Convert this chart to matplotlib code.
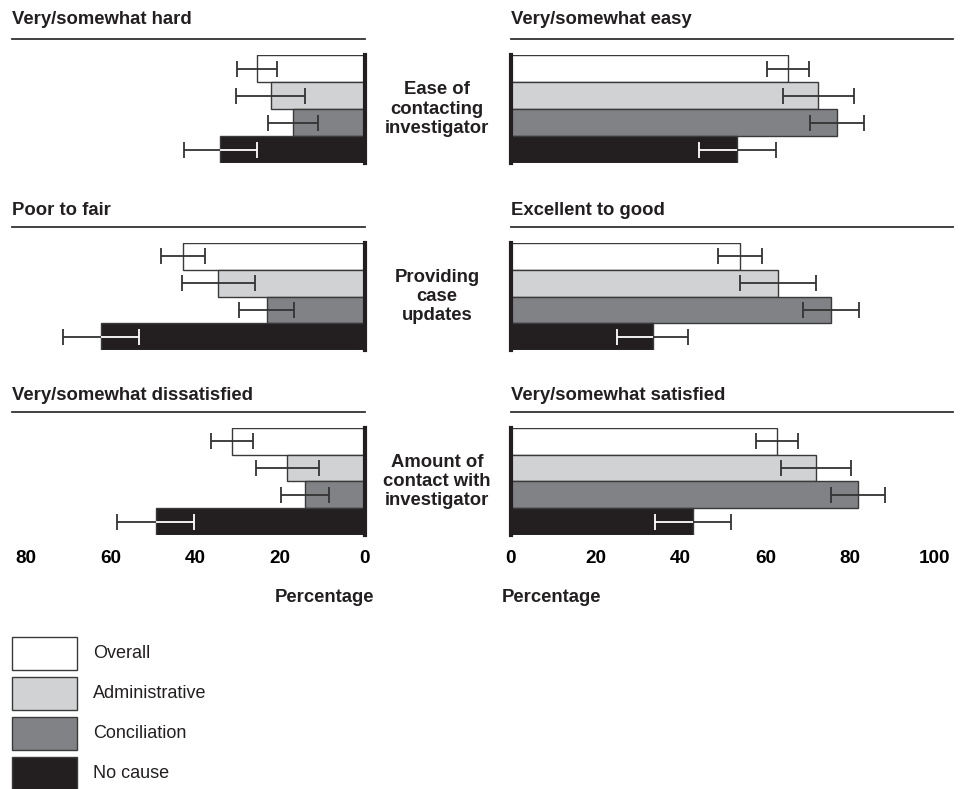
import numpy as np
import matplotlib
matplotlib.use('Agg')
import matplotlib.pyplot as plt
from matplotlib.patches import Rectangle
from matplotlib.lines import Line2D

plt.rcParams['font.family'] = ['Liberation Sans', 'DejaVu Sans']

# data
groups = ['Overall', 'Administrative', 'Conciliation', 'No cause']
colors = ['#ffffff', '#d1d2d4', '#808285', '#231f20']

items = ['Ease of\ncontacting\ninvestigator', 'Providing\ncase\nupdates',
         'Amount of\ncontact with\ninvestigator']
neg_titles = ['Very/somewhat hard', 'Poor to fair', 'Very/somewhat dissatisfied']
pos_titles = ['Very/somewhat easy', 'Excellent to good', 'Very/somewhat satisfied']

# negative side (left), one list per item: Overall, Admin, Conciliation, No cause
neg_vals = [[25.5, 22.3, 17.0, 34.2],
            [42.9, 34.6, 23.2, 62.3],
            [31.4, 18.3, 14.2, 49.4]]
neg_err = [[4.8, 8.1, 5.9, 8.6],
           [5.2, 8.7, 6.5, 9.0],
           [5.0, 7.5, 5.7, 9.1]]

# positive side (right)
pos_vals = [[65.3, 72.5, 76.9, 53.4],
            [54.0, 63.0, 75.5, 33.4],
            [62.8, 71.9, 81.8, 43.0]]
pos_err = [[5.0, 8.4, 6.4, 9.1],
           [5.2, 9.0, 6.6, 8.4],
           [5.0, 8.2, 6.4, 9.0]]

left_ticks = [80, 60, 40, 20, 0]
right_ticks = [0, 20, 40, 60, 80, 100]

W, H = 969, 789
fig = plt.figure(figsize=(W / 100, H / 100), dpi=100)


def rect(x0, y0, x1, y1):
    return [x0 / W, 1 - y1 / H, (x1 - x0) / W, (y1 - y0) / H]


def fline(x0, x1, y):
    fig.add_artist(Line2D([x0 / W, x1 / W], [1 - y / H, 1 - y / H],
                          color='#333333', lw=1.3, transform=fig.transFigure))


bar_tops = [55, 243, 428]
bar_bots = [163, 350, 535]
title_base = [24, 215, 400]
line_y = [39, 227, 412]

ypos = np.arange(len(groups))


def draw_bars(ax, vals, errs):
    bars = ax.barh(ypos, vals, height=1.0, color=colors, edgecolor='#3a3a3a',
                   linewidth=1.0, zorder=2)
    ax.errorbar(vals, ypos, xerr=errs, fmt='none', ecolor='#333333',
                elinewidth=1.3, capsize=6, capthick=1.3, zorder=3)
    # white part of the error bar that sits on the black bar
    eb = ax.errorbar(vals[-1], ypos[-1], xerr=errs[-1], fmt='none',
                     ecolor='white', elinewidth=1.3, capsize=6, capthick=1.3,
                     zorder=4)
    for art in eb.lines[1] + eb.lines[2]:
        art.set_clip_path(bars[-1])
    ax.set_ylim(len(groups) - 0.5, -0.5)
    ax.set_yticks([])
    for s in ['top', 'bottom', 'left', 'right']:
        ax.spines[s].set_visible(False)


for r in range(3):
    # left panel
    axl = fig.add_axes(rect(26, bar_tops[r], 365, bar_bots[r]))
    draw_bars(axl, neg_vals[r], neg_err[r])
    axl.set_xlim(80, 0)
    axl.spines['right'].set_visible(True)
    axl.spines['right'].set_linewidth(3)
    axl.spines['right'].set_color('#231f20')
    # right panel
    axr = fig.add_axes(rect(511, bar_tops[r], 935, bar_bots[r]))
    draw_bars(axr, pos_vals[r], pos_err[r])
    axr.set_xlim(0, 100)
    axr.spines['left'].set_visible(True)
    axr.spines['left'].set_linewidth(3)
    axr.spines['left'].set_color('#231f20')

    if r == 2:
        axl.set_xticks(left_ticks)
        axr.set_xticks(right_ticks)
        for ax in (axl, axr):
            ax.tick_params(axis='x', length=0, pad=11, labelsize=13.6)
            for lab in ax.get_xticklabels():
                lab.set_fontweight('bold')
    else:
        axl.set_xticks([])
        axr.set_xticks([])

    # section titles and rules
    fig.text(12 / W, 1 - title_base[r] / H, neg_titles[r], fontsize=13.3,
             fontweight='bold', va='baseline', ha='left', color='#231f20')
    fig.text(511 / W, 1 - title_base[r] / H, pos_titles[r], fontsize=13.3,
             fontweight='bold', va='baseline', ha='left', color='#231f20')
    fline(12, 365, line_y[r])
    fline(511, 953, line_y[r])

    # item label in the middle
    fig.text(437 / W, 1 - (bar_tops[r] + bar_bots[r]) / 2 / H, items[r],
             fontsize=13.3, fontweight='bold', ha='center', va='center',
             linespacing=1.18, color='#231f20')

fig.text(324 / W, 1 - 597 / H, 'Percentage', fontsize=13.3, fontweight='bold',
         ha='center', va='center', color='#231f20')
fig.text(502 / W, 1 - 597 / H, 'Percentage', fontsize=13.3, fontweight='bold',
         ha='left', va='center', color='#231f20')

# legend
for i, (g, c) in enumerate(zip(groups, colors)):
    y0 = 637 + 40 * i
    fig.add_artist(Rectangle((12 / W, 1 - (y0 + 33) / H), 65 / W, 33 / H,
                             facecolor=c, edgecolor='#3a3a3a', lw=1.0,
                             transform=fig.transFigure))
    fig.text(93 / W, 1 - (y0 + 16.5) / H, g, fontsize=13, ha='left',
             va='center', color='#231f20')

fig.savefig('out.png', dpi=100)
